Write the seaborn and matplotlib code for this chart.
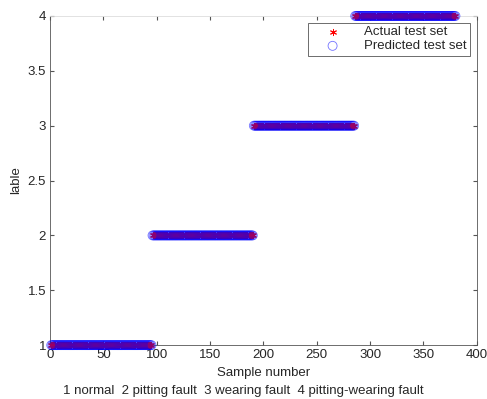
import numpy as np
import pandas as pd
import matplotlib
matplotlib.use("Agg")
import matplotlib.pyplot as plt
import seaborn as sns

# class labels and the sample ranges that belong to each class
class_labels = [1, 2, 3, 4]
first_sample = [1, 96, 191, 286]
last_sample = [95, 190, 285, 380]
class_names = ["normal", "pitting fault", "wearing fault", "pitting-wearing fault"]

samples = []
actual = []
for lab, a, b in zip(class_labels, first_sample, last_sample):
    for s in range(a, b + 1):
        samples.append(s)
        actual.append(lab)
predicted = list(actual)  # every test sample was classified correctly

df = pd.DataFrame({"Sample": samples, "Actual": actual, "Predicted": predicted})

sns.set_style("ticks")
plt.rcParams["font.family"] = ["Liberation Sans", "DejaVu Sans"]

fig = plt.figure(figsize=(4.87, 3.99), dpi=100)
ax = fig.add_axes([0.103, 0.135, 0.876, 0.825])

asterisk = (6, 2, 0)
sns.scatterplot(data=df, x="Sample", y="Actual", marker=asterisk, color="red",
                s=20, linewidth=0.7, edgecolor="red", ax=ax, clip_on=False,
                label="Actual test set", zorder=3)
sns.scatterplot(data=df, x="Sample", y="Predicted", marker="o", facecolor="none",
                edgecolor="blue", s=42, linewidth=0.6, alpha=0.55, ax=ax,
                clip_on=False, label="Predicted test set", zorder=4)

ax.set_xlim(0, 400)
ax.set_ylim(1, 4)
ax.set_xticks([0, 50, 100, 150, 200, 250, 300, 350, 400])
ax.set_yticks([1, 1.5, 2, 2.5, 3, 3.5, 4])
ax.set_yticklabels(["1", "1.5", "2", "2.5", "3", "3.5", "4"])
ax.tick_params(direction="in", top=True, right=True, labelsize=9.5, length=3, pad=3,
               color="#555555")
for sp in ax.spines.values():
    sp.set_visible(True)
    sp.set_linewidth(0.6)
    sp.set_color("#555555")
ax.spines["top"].set_color("#dddddd")

ax.set_xlabel("Sample number", fontsize=9.5, labelpad=4)
ax.set_ylabel("lable", fontsize=9.5, labelpad=4)
caption = "  ".join(f"{l} {n}" for l, n in zip(class_labels, class_names))
fig.text(0.5, 0.004, caption, ha="center", va="bottom", fontsize=9.5)

leg = ax.legend(loc="upper right", fontsize=9.5, frameon=True, fancybox=False,
                edgecolor="#555555", borderpad=0.25, handlelength=3.2,
                handletextpad=0.8, borderaxespad=0.5, labelspacing=0.15,
                markerscale=1.0, framealpha=1)
leg.get_frame().set_linewidth(0.6)

fig.savefig("out.png", dpi=100)
